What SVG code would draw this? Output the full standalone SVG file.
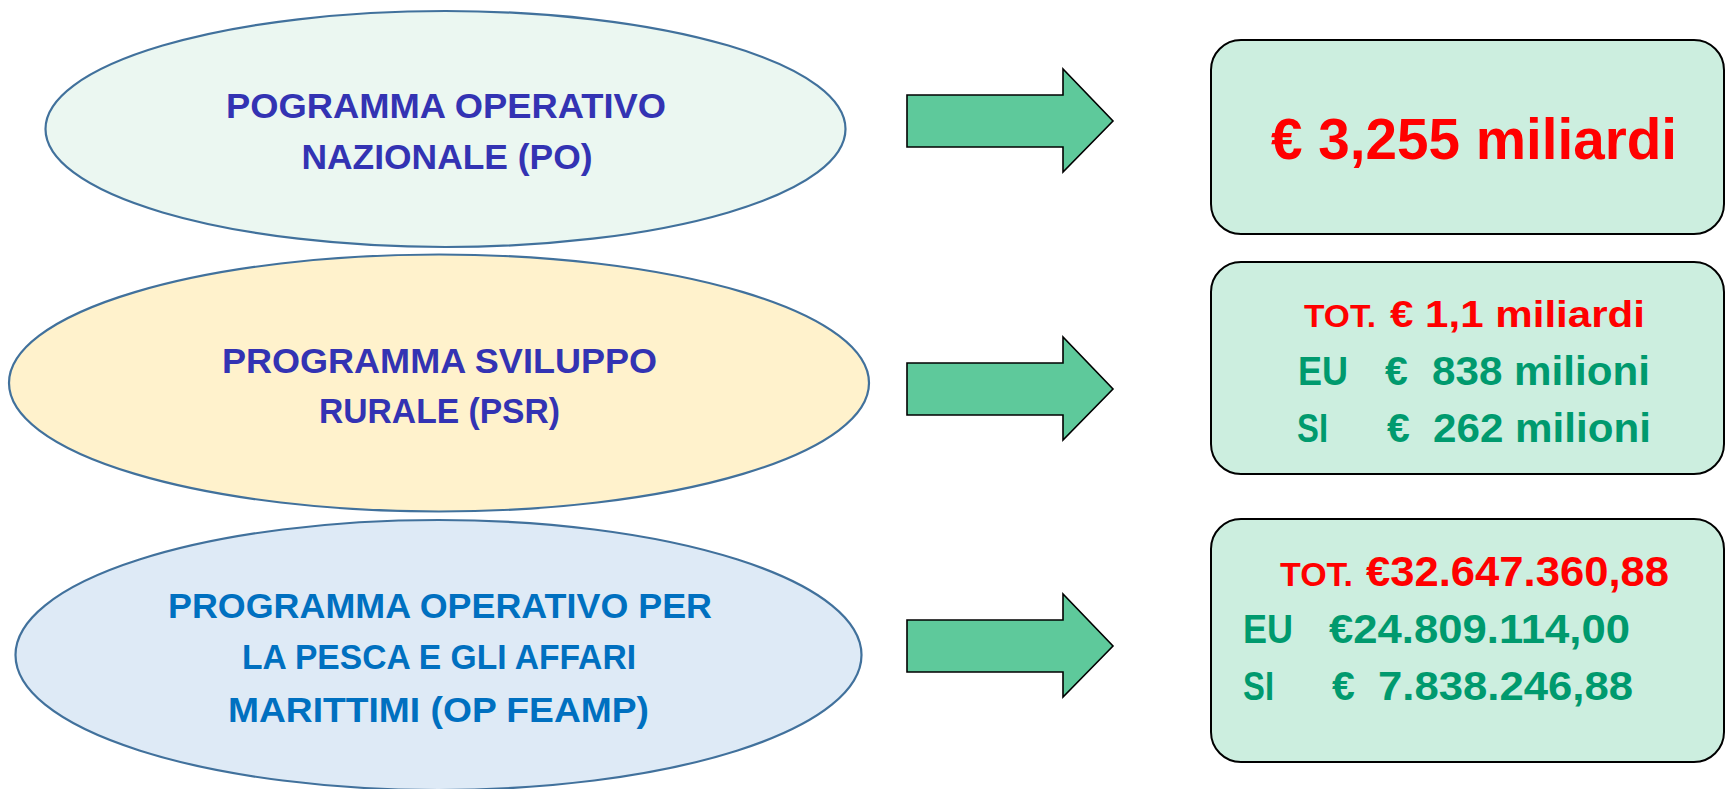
<svg xmlns="http://www.w3.org/2000/svg" width="1726" height="789" viewBox="0 0 1726 789">
<style>
  .ell { stroke: #41719C; stroke-width: 2.2; }
  .box { fill: #CCEEDF; stroke: #000; stroke-width: 2; }
  .arr { fill: #5EC99B; stroke: #000; stroke-width: 1.6; stroke-linejoin: miter; }
  text { font-family: "Liberation Sans", Arial, sans-serif; font-weight: bold; }
  .lbl { font-size: 35px; fill: #3333B3; text-anchor: middle; }
  .lbl3 { font-size: 35px; fill: #0070C0; text-anchor: middle; }
  .red { fill: #FF0000; }
  .grn { fill: #009A6E; }
</style>
<defs>
  <path id="arrowShape" d="M907,-26 L1063,-26 L1063,-52 L1113,0 L1063,51 L1063,26 L907,26 Z"/>
</defs>
<rect width="1726" height="789" fill="#FFFFFF"/>

<g id="node-po">
  <ellipse class="ell" cx="445.5" cy="129" rx="400" ry="118" fill="#EBF7F1"/>
  <text class="lbl" x="446" y="118" textLength="440" lengthAdjust="spacingAndGlyphs">POGRAMMA OPERATIVO</text>
  <text class="lbl" x="447" y="169" textLength="291" lengthAdjust="spacingAndGlyphs">NAZIONALE (PO)</text>
</g>

<g id="node-psr">
  <ellipse class="ell" cx="439" cy="383" rx="430" ry="128.5" fill="#FFF2CC"/>
  <text class="lbl" x="439.5" y="373" textLength="435" lengthAdjust="spacingAndGlyphs">PROGRAMMA SVILUPPO</text>
  <text class="lbl" x="439.5" y="423" textLength="241" lengthAdjust="spacingAndGlyphs">RURALE (PSR)</text>
</g>

<g id="node-feamp">
  <ellipse class="ell" cx="438.5" cy="655" rx="423" ry="135" fill="#DEEAF6"/>
  <text class="lbl3" x="440" y="618" textLength="544" lengthAdjust="spacingAndGlyphs">PROGRAMMA OPERATIVO PER</text>
  <text class="lbl3" x="439" y="669" textLength="394" lengthAdjust="spacingAndGlyphs">LA PESCA E GLI AFFARI</text>
  <text class="lbl3" x="438.5" y="722" textLength="421" lengthAdjust="spacingAndGlyphs">MARITTIMI (OP FEAMP)</text>
</g>

<g id="connectors">
  <use href="#arrowShape" class="arr" transform="translate(0,121)"/>
  <use href="#arrowShape" class="arr" transform="translate(0,389)"/>
  <use href="#arrowShape" class="arr" transform="translate(0,646)"/>
</g>

<g id="box-po">
  <rect class="box" x="1211" y="40" width="513" height="194" rx="30" ry="30"/>
  <text class="red" x="1271" y="159" font-size="57" textLength="406" lengthAdjust="spacingAndGlyphs">€ 3,255 miliardi</text>
</g>

<g id="box-psr">
  <rect class="box" x="1211" y="262" width="513" height="212" rx="30" ry="30"/>
  <text class="red" x="1304" y="327" font-size="32" textLength="72" lengthAdjust="spacingAndGlyphs">TOT.</text>
  <text class="red" x="1390" y="327" font-size="36" textLength="255" lengthAdjust="spacingAndGlyphs">€ 1,1 miliardi</text>
  <text class="grn" x="1298" y="385" font-size="41" textLength="50" lengthAdjust="spacingAndGlyphs">EU</text>
  <text class="grn" x="1385" y="385" font-size="41">€</text>
  <text class="grn" x="1432" y="385" font-size="41" textLength="218" lengthAdjust="spacingAndGlyphs">838 milioni</text>
  <text class="grn" x="1297" y="442" font-size="41" textLength="31" lengthAdjust="spacingAndGlyphs">SI</text>
  <text class="grn" x="1387" y="442" font-size="41">€</text>
  <text class="grn" x="1433" y="442" font-size="41" textLength="218" lengthAdjust="spacingAndGlyphs">262 milioni</text>
</g>

<g id="box-feamp">
  <rect class="box" x="1211" y="519" width="513" height="243" rx="30" ry="30"/>
  <text class="red" x="1280" y="586" font-size="33" textLength="73" lengthAdjust="spacingAndGlyphs">TOT.</text>
  <text class="red" x="1366" y="586" font-size="42" textLength="303" lengthAdjust="spacingAndGlyphs">€32.647.360,88</text>
  <text class="grn" x="1243" y="643" font-size="41" textLength="50" lengthAdjust="spacingAndGlyphs">EU</text>
  <text class="grn" x="1329" y="643" font-size="41" textLength="301" lengthAdjust="spacingAndGlyphs">€24.809.114,00</text>
  <text class="grn" x="1243" y="700" font-size="41" textLength="31" lengthAdjust="spacingAndGlyphs">SI</text>
  <text class="grn" x="1332" y="700" font-size="41">€</text>
  <text class="grn" x="1378" y="700" font-size="41" textLength="255" lengthAdjust="spacingAndGlyphs">7.838.246,88</text>
</g>
</svg>
